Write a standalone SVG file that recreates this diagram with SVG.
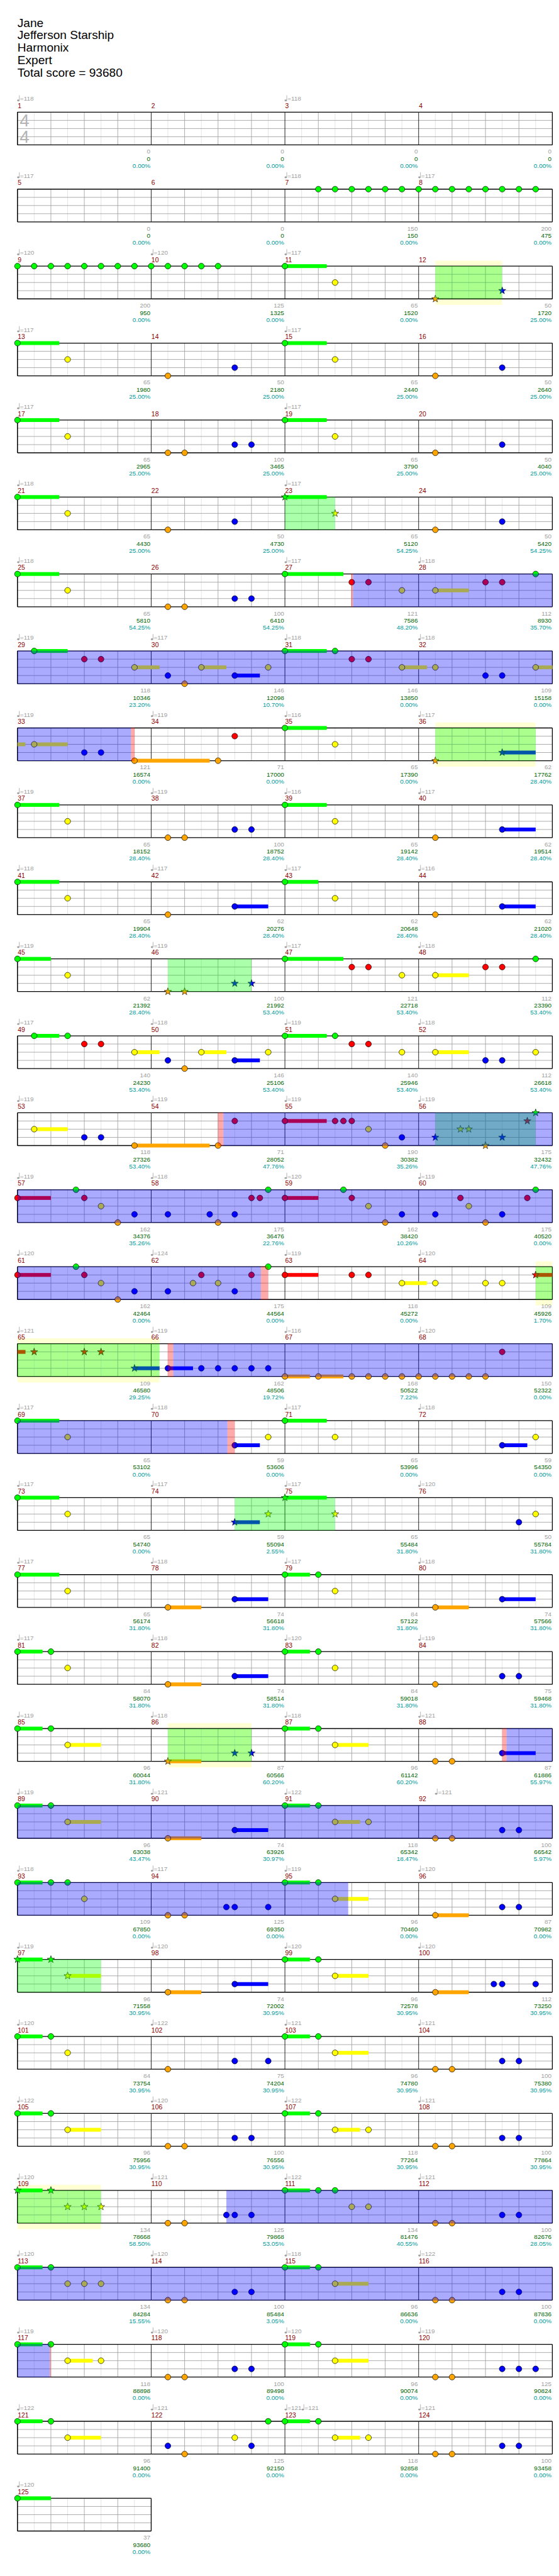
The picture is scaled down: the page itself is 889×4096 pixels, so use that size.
<svg xmlns="http://www.w3.org/2000/svg" xmlns:xlink="http://www.w3.org/1999/xlink" width="889" height="4096" viewBox="0 0 889 4096">
<style>
.hd{font:22px "Liberation Sans",Arial,sans-serif;fill:#000}
.mn{font:12px "Liberation Sans",Arial,sans-serif;fill:#8b0000}
.tp{font:11.5px "Liberation Sans",Arial,sans-serif;fill:#a0a0a0}
.a{font:11.5px "Liberation Sans",Arial,sans-serif;text-anchor:end}
.a1{fill:#a0a0a0}.a2{fill:#006400}.a3{fill:#009a9a}
.ts{font:32px "Liberation Sans",Arial,sans-serif;fill:#b4b4b4;text-anchor:middle}
.G{fill:#00ff00}.R{fill:#ff0000}.Y{fill:#ffff00}.B{fill:#0000ff}.O{fill:#ffa500}
.gz{fill:#00ff00;fill-opacity:.333}.ov{fill:#0000ff;fill-opacity:.333}.pk{fill:#ff0000;fill-opacity:.333}.yb{fill:#ffffd4}
</style>
<defs>
<circle id="n" r="5.3" stroke="#000" stroke-width="0.8"/>
<polygon id="s" points="0,-7 1.65,-2.27 6.66,-2.16 2.66,0.87 4.11,5.66 0,2.8 -4.11,5.66 -2.66,0.87 -6.66,-2.16 -1.65,-2.27" stroke="#000" stroke-width="0.7"/>
<g id="ti" fill="#a0a0a0" stroke="#a0a0a0"><ellipse cx="1.5" cy="-21.5" rx="2.2" ry="1.7" stroke="none"/><path d="M3.4 -21.5V-31" stroke-width="0.9" fill="none"/></g>
<g id="mg" fill="none">
<path d="M30.6 0V60M91.9 0V60M153.1 0V60M214.4 0V60" stroke="#e0e0e0"/>
<path d="M61.25 0V60M122.5 0V60M183.75 0V60M0 15H245M0 30H245M0 45H245" stroke="#a0a0a0"/>
<path d="M0 0V60" stroke="#000"/>
<path d="M0 0H245M0 60H245" stroke="#000" stroke-width="1.5"/>
</g>
<g id="st"><use href="#mg"/><use href="#mg" x="245"/><use href="#mg" x="490"/><use href="#mg" x="735"/><path d="M0 0V60M980 0V60" stroke="#000" stroke-width="1.5" fill="none"/></g>
</defs>
<rect width="889" height="4096" fill="#fff"/>
<g transform="scale(0.868)">
<g id="header" class="hd">
<text class="hd" x="32" y="49">Jane</text>
<text class="hd" x="32" y="72">Jefferson Starship</text>
<text class="hd" x="32" y="95">Harmonix</text>
<text class="hd" x="32" y="118">Expert</text>
<text class="hd" x="32" y="141">Total score = 93680</text>
</g>

<g id="row1" transform="translate(32,205.5)">
<use href="#st"/>
<text class="ts" x="13" y="26.6">4</text><text class="ts" x="13" y="56.6">4</text>
<use href="#ti"/><use href="#ti" x="490"/>
<text class="tp" y="-20.7"><tspan x="4.7">=118</tspan><tspan x="494.7">=118</tspan></text>
<text class="mn" y="-7.4"><tspan x="0.5">1</tspan><tspan x="245.5">2</tspan><tspan x="490.5">3</tspan><tspan x="735.5">4</tspan></text>
<text class="a a1" y="76"><tspan x="243.5">0</tspan><tspan x="488.5">0</tspan><tspan x="733.5">0</tspan><tspan x="978.5">0</tspan></text>
<text class="a a2" y="89.3"><tspan x="243.5">0</tspan><tspan x="488.5">0</tspan><tspan x="733.5">0</tspan><tspan x="978.5">0</tspan></text>
<text class="a a3" y="102"><tspan x="243.5">0.00%</tspan><tspan x="488.5">0.00%</tspan><tspan x="733.5">0.00%</tspan><tspan x="978.5">0.00%</tspan></text>
</g>

<g id="row2" transform="translate(32,346.5)">
<use href="#st"/>
<use href="#n" class="G" x="551.25"/><use href="#n" class="G" x="581.9"/><use href="#n" class="G" x="612.5"/><use href="#n" class="G" x="643.1"/><use href="#n" class="G" x="673.75"/><use href="#n" class="G" x="704.4"/><use href="#n" class="G" x="735"/><use href="#n" class="G" x="765.6"/><use href="#n" class="G" x="796.25"/><use href="#n" class="G" x="826.9"/><use href="#n" class="G" x="857.5"/><use href="#n" class="G" x="888.1"/><use href="#n" class="G" x="918.75"/><use href="#n" class="G" x="949.4"/>
<use href="#ti"/><use href="#ti" x="490"/><use href="#ti" x="735"/>
<text class="tp" y="-20.7"><tspan x="4.7">=117</tspan><tspan x="494.7">=118</tspan><tspan x="739.7">=117</tspan></text>
<text class="mn" y="-7.4"><tspan x="0.5">5</tspan><tspan x="245.5">6</tspan><tspan x="490.5">7</tspan><tspan x="735.5">8</tspan></text>
<text class="a a1" y="76"><tspan x="243.5">0</tspan><tspan x="488.5">0</tspan><tspan x="733.5">150</tspan><tspan x="978.5">200</tspan></text>
<text class="a a2" y="89.3"><tspan x="243.5">0</tspan><tspan x="488.5">0</tspan><tspan x="733.5">150</tspan><tspan x="978.5">475</tspan></text>
<text class="a a3" y="102"><tspan x="243.5">0.00%</tspan><tspan x="488.5">0.00%</tspan><tspan x="733.5">0.00%</tspan><tspan x="978.5">0.00%</tspan></text>
</g>

<g id="row3" transform="translate(32,487.5)">
<rect class="yb" x="765.6" y="-10" width="122.5" height="81"/>
<use href="#st"/>
<rect class="G" x="490" y="-3.5" width="76.6" height="7"/>
<use href="#n" class="G" x="0"/><use href="#n" class="G" x="30.6"/><use href="#n" class="G" x="61.25"/><use href="#n" class="G" x="91.9"/><use href="#n" class="G" x="122.5"/><use href="#n" class="G" x="153.1"/><use href="#n" class="G" x="183.75"/><use href="#n" class="G" x="214.4"/><use href="#n" class="G" x="245"/><use href="#n" class="G" x="275.6"/><use href="#n" class="G" x="306.25"/><use href="#n" class="G" x="336.9"/><use href="#n" class="G" x="367.5"/>
<use href="#n" class="G" x="490"/><use href="#n" class="Y" x="581.9" y="30"/>
<use href="#s" class="O" x="765.6" y="60"/><use href="#s" class="B" x="888.1" y="45"/>
<rect class="gz" x="765.6" y="0" width="122.5" height="60"/>
<use href="#ti"/><use href="#ti" x="245"/><use href="#ti" x="490"/>
<text class="tp" y="-20.7"><tspan x="4.7">=120</tspan><tspan x="249.7">=120</tspan><tspan x="494.7">=117</tspan></text>
<text class="mn" y="-7.4"><tspan x="0.5">9</tspan><tspan x="245.5">10</tspan><tspan x="490.5">11</tspan><tspan x="735.5">12</tspan></text>
<text class="a a1" y="76"><tspan x="243.5">200</tspan><tspan x="488.5">125</tspan><tspan x="733.5">65</tspan><tspan x="978.5">50</tspan></text>
<text class="a a2" y="89.3"><tspan x="243.5">950</tspan><tspan x="488.5">1325</tspan><tspan x="733.5">1520</tspan><tspan x="978.5">1720</tspan></text>
<text class="a a3" y="102"><tspan x="243.5">0.00%</tspan><tspan x="488.5">0.00%</tspan><tspan x="733.5">0.00%</tspan><tspan x="978.5">25.00%</tspan></text>
</g>

<g id="row4" transform="translate(32,628.5)">
<use href="#st"/>
<rect class="G" x="0" y="-3.5" width="76.6" height="7"/><rect class="G" x="490" y="-3.5" width="76.6" height="7"/>
<use href="#n" class="G" x="0"/><use href="#n" class="Y" x="91.9" y="30"/><use href="#n" class="O" x="275.6" y="60"/><use href="#n" class="B" x="398.1" y="45"/>
<use href="#n" class="G" x="490"/><use href="#n" class="Y" x="581.9" y="30"/><use href="#n" class="O" x="765.6" y="60"/><use href="#n" class="B" x="888.1" y="45"/>
<use href="#ti"/><use href="#ti" x="490"/>
<text class="tp" y="-20.7"><tspan x="4.7">=117</tspan><tspan x="494.7">=117</tspan></text>
<text class="mn" y="-7.4"><tspan x="0.5">13</tspan><tspan x="245.5">14</tspan><tspan x="490.5">15</tspan><tspan x="735.5">16</tspan></text>
<text class="a a1" y="76"><tspan x="243.5">65</tspan><tspan x="488.5">50</tspan><tspan x="733.5">65</tspan><tspan x="978.5">50</tspan></text>
<text class="a a2" y="89.3"><tspan x="243.5">1980</tspan><tspan x="488.5">2180</tspan><tspan x="733.5">2440</tspan><tspan x="978.5">2640</tspan></text>
<text class="a a3" y="102"><tspan x="243.5">25.00%</tspan><tspan x="488.5">25.00%</tspan><tspan x="733.5">25.00%</tspan><tspan x="978.5">25.00%</tspan></text>
</g>

<g id="row5" transform="translate(32,769.5)">
<use href="#st"/>
<rect class="G" x="0" y="-3.5" width="76.6" height="7"/><rect class="G" x="490" y="-3.5" width="76.6" height="7"/>
<use href="#n" class="G" x="0"/><use href="#n" class="Y" x="91.9" y="30"/><use href="#n" class="O" x="275.6" y="60"/><use href="#n" class="O" x="306.25" y="60"/><use href="#n" class="B" x="398.1" y="45"/><use href="#n" class="B" x="428.75" y="45"/>
<use href="#n" class="G" x="490"/><use href="#n" class="Y" x="581.9" y="30"/><use href="#n" class="O" x="765.6" y="60"/><use href="#n" class="B" x="888.1" y="45"/>
<use href="#ti"/><use href="#ti" x="490"/>
<text class="tp" y="-20.7"><tspan x="4.7">=117</tspan><tspan x="494.7">=117</tspan></text>
<text class="mn" y="-7.4"><tspan x="0.5">17</tspan><tspan x="245.5">18</tspan><tspan x="490.5">19</tspan><tspan x="735.5">20</tspan></text>
<text class="a a1" y="76"><tspan x="243.5">65</tspan><tspan x="488.5">100</tspan><tspan x="733.5">65</tspan><tspan x="978.5">50</tspan></text>
<text class="a a2" y="89.3"><tspan x="243.5">2965</tspan><tspan x="488.5">3465</tspan><tspan x="733.5">3790</tspan><tspan x="978.5">4040</tspan></text>
<text class="a a3" y="102"><tspan x="243.5">25.00%</tspan><tspan x="488.5">25.00%</tspan><tspan x="733.5">25.00%</tspan><tspan x="978.5">25.00%</tspan></text>
</g>

<g id="row6" transform="translate(32,910.5)">
<use href="#st"/>
<rect class="G" x="0" y="-3.5" width="76.6" height="7"/><rect class="G" x="490" y="-3.5" width="76.6" height="7"/>
<use href="#n" class="G" x="0"/><use href="#n" class="Y" x="91.9" y="30"/><use href="#n" class="O" x="275.6" y="60"/><use href="#n" class="B" x="398.1" y="45"/>
<use href="#s" class="G" x="490"/><use href="#s" class="Y" x="581.9" y="30"/><use href="#n" class="O" x="765.6" y="60"/><use href="#n" class="B" x="888.1" y="45"/>
<rect class="gz" x="490" y="0" width="91.9" height="60"/>
<use href="#ti"/><use href="#ti" x="490"/>
<text class="tp" y="-20.7"><tspan x="4.7">=118</tspan><tspan x="494.7">=117</tspan></text>
<text class="mn" y="-7.4"><tspan x="0.5">21</tspan><tspan x="245.5">22</tspan><tspan x="490.5">23</tspan><tspan x="735.5">24</tspan></text>
<text class="a a1" y="76"><tspan x="243.5">65</tspan><tspan x="488.5">50</tspan><tspan x="733.5">65</tspan><tspan x="978.5">50</tspan></text>
<text class="a a2" y="89.3"><tspan x="243.5">4430</tspan><tspan x="488.5">4730</tspan><tspan x="733.5">5120</tspan><tspan x="978.5">5420</tspan></text>
<text class="a a3" y="102"><tspan x="243.5">25.00%</tspan><tspan x="488.5">25.00%</tspan><tspan x="733.5">54.25%</tspan><tspan x="978.5">54.25%</tspan></text>
</g>

<g id="row7" transform="translate(32,1051.5)">
<use href="#st"/>
<rect class="G" x="0" y="-3.5" width="76.6" height="7"/><rect class="G" x="490" y="-3.5" width="107.2" height="7"/><rect class="Y" x="765.6" y="26.5" width="61.3" height="7"/>
<use href="#n" class="G" x="0"/><use href="#n" class="Y" x="91.9" y="30"/><use href="#n" class="O" x="275.6" y="60"/><use href="#n" class="O" x="306.25" y="60"/><use href="#n" class="B" x="398.1" y="45"/><use href="#n" class="B" x="428.75" y="45"/>
<use href="#n" class="G" x="490"/><use href="#n" class="R" x="612.5" y="15"/><use href="#n" class="R" x="643.1" y="15"/><use href="#n" class="Y" x="704.4" y="30"/><use href="#n" class="Y" x="765.6" y="30"/><use href="#n" class="R" x="857.5" y="15"/><use href="#n" class="R" x="888.1" y="15"/><use href="#n" class="G" x="949.4"/>
<rect class="ov" x="614.7" y="-0.5" width="365.3" height="61"/><rect class="pk" x="611.3" y="-0.5" width="3.4" height="61"/>
<use href="#ti"/><use href="#ti" x="490"/><use href="#ti" x="735"/>
<text class="tp" y="-20.7"><tspan x="4.7">=118</tspan><tspan x="494.7">=117</tspan><tspan x="739.7">=118</tspan></text>
<text class="mn" y="-7.4"><tspan x="0.5">25</tspan><tspan x="245.5">26</tspan><tspan x="490.5">27</tspan><tspan x="735.5">28</tspan></text>
<text class="a a1" y="76"><tspan x="243.5">65</tspan><tspan x="488.5">100</tspan><tspan x="733.5">121</tspan><tspan x="978.5">112</tspan></text>
<text class="a a2" y="89.3"><tspan x="243.5">5810</tspan><tspan x="488.5">6410</tspan><tspan x="733.5">7586</tspan><tspan x="978.5">8930</tspan></text>
<text class="a a3" y="102"><tspan x="243.5">54.25%</tspan><tspan x="488.5">54.25%</tspan><tspan x="733.5">48.20%</tspan><tspan x="978.5">35.70%</tspan></text>
</g>

<g id="row8" transform="translate(32,1192.5)">
<use href="#st"/>
<rect class="G" x="30.6" y="-3.5" width="61.3" height="7"/><rect class="Y" x="214.4" y="26.5" width="45.9" height="7"/><rect class="Y" x="336.9" y="26.5" width="45.9" height="7"/><rect class="B" x="398.1" y="41.5" width="46" height="7"/><rect class="G" x="490" y="-3.5" width="76.6" height="7"/><rect class="Y" x="704.4" y="26.5" width="45.9" height="7"/><rect class="Y" x="949.4" y="26.5" width="30.6" height="7"/>
<use href="#n" class="G" x="30.6"/><use href="#n" class="R" x="122.5" y="15"/><use href="#n" class="R" x="153.1" y="15"/><use href="#n" class="Y" x="214.4" y="30"/><use href="#n" class="B" x="275.6" y="45"/><use href="#n" class="O" x="306.25" y="60"/><use href="#n" class="Y" x="336.9" y="30"/><use href="#n" class="B" x="398.1" y="45"/><use href="#n" class="Y" x="459.4" y="30"/>
<use href="#n" class="G" x="490"/><use href="#n" class="G" x="581.9"/><use href="#n" class="R" x="612.5" y="15"/><use href="#n" class="R" x="643.1" y="15"/><use href="#n" class="Y" x="704.4" y="30"/><use href="#n" class="Y" x="765.6" y="30"/><use href="#n" class="B" x="857.5" y="45"/><use href="#n" class="B" x="888.1" y="45"/><use href="#n" class="Y" x="949.4" y="30"/>
<rect class="ov" x="0" y="-0.5" width="980" height="61"/>
<use href="#ti"/><use href="#ti" x="245"/><use href="#ti" x="490"/><use href="#ti" x="735"/>
<text class="tp" y="-20.7"><tspan x="4.7">=119</tspan><tspan x="249.7">=117</tspan><tspan x="494.7">=118</tspan><tspan x="739.7">=118</tspan></text>
<text class="mn" y="-7.4"><tspan x="0.5">29</tspan><tspan x="245.5">30</tspan><tspan x="490.5">31</tspan><tspan x="735.5">32</tspan></text>
<text class="a a1" y="76"><tspan x="243.5">118</tspan><tspan x="488.5">146</tspan><tspan x="733.5">146</tspan><tspan x="978.5">109</tspan></text>
<text class="a a2" y="89.3"><tspan x="243.5">10346</tspan><tspan x="488.5">12098</tspan><tspan x="733.5">13850</tspan><tspan x="978.5">15158</tspan></text>
<text class="a a3" y="102"><tspan x="243.5">23.20%</tspan><tspan x="488.5">10.70%</tspan><tspan x="733.5">0.00%</tspan><tspan x="978.5">0.00%</tspan></text>
</g>

<g id="row9" transform="translate(32,1333.5)">
<rect class="yb" x="765.6" y="-10" width="183.8" height="81"/>
<use href="#st"/>
<rect class="Y" x="0" y="26.5" width="14.7" height="7"/><rect class="Y" x="30.6" y="26.5" width="61.3" height="7"/><rect class="O" x="214.4" y="56.5" width="137.8" height="7"/><rect class="G" x="490" y="-3.5" width="76.6" height="7"/><rect class="B" x="888.1" y="41.5" width="61.3" height="7"/>
<use href="#n" class="Y" x="30.6" y="30"/><use href="#n" class="B" x="122.5" y="45"/><use href="#n" class="B" x="153.1" y="45"/><use href="#n" class="O" x="214.4" y="60"/><use href="#n" class="O" x="367.5" y="60"/><use href="#n" class="R" x="398.1" y="15"/>
<use href="#n" class="G" x="490"/><use href="#n" class="Y" x="581.9" y="30"/><use href="#s" class="O" x="765.6" y="60"/><use href="#s" class="B" x="888.1" y="45"/>
<rect class="gz" x="765.6" y="0" width="183.8" height="60"/>
<rect class="ov" x="0" y="-0.5" width="208" height="61"/><rect class="pk" x="208" y="-0.5" width="6.7" height="61"/>
<use href="#ti"/><use href="#ti" x="245"/><use href="#ti" x="490"/><use href="#ti" x="735"/>
<text class="tp" y="-20.7"><tspan x="4.7">=119</tspan><tspan x="249.7">=119</tspan><tspan x="494.7">=116</tspan><tspan x="739.7">=117</tspan></text>
<text class="mn" y="-7.4"><tspan x="0.5">33</tspan><tspan x="245.5">34</tspan><tspan x="490.5">35</tspan><tspan x="735.5">36</tspan></text>
<text class="a a1" y="76"><tspan x="243.5">121</tspan><tspan x="488.5">71</tspan><tspan x="733.5">65</tspan><tspan x="978.5">62</tspan></text>
<text class="a a2" y="89.3"><tspan x="243.5">16574</tspan><tspan x="488.5">17000</tspan><tspan x="733.5">17390</tspan><tspan x="978.5">17762</tspan></text>
<text class="a a3" y="102"><tspan x="243.5">0.00%</tspan><tspan x="488.5">0.00%</tspan><tspan x="733.5">0.00%</tspan><tspan x="978.5">28.40%</tspan></text>
</g>

<g id="row10" transform="translate(32,1474.5)">
<use href="#st"/>
<rect class="G" x="0" y="-3.5" width="76.6" height="7"/><rect class="G" x="490" y="-3.5" width="76.6" height="7"/><rect class="B" x="888.1" y="41.5" width="61.3" height="7"/>
<use href="#n" class="G" x="0"/><use href="#n" class="Y" x="91.9" y="30"/><use href="#n" class="O" x="275.6" y="60"/><use href="#n" class="O" x="306.25" y="60"/><use href="#n" class="B" x="398.1" y="45"/><use href="#n" class="B" x="428.75" y="45"/>
<use href="#n" class="G" x="490"/><use href="#n" class="Y" x="581.9" y="30"/><use href="#n" class="O" x="765.6" y="60"/><use href="#n" class="B" x="888.1" y="45"/>
<use href="#ti"/><use href="#ti" x="245"/><use href="#ti" x="490"/><use href="#ti" x="735"/>
<text class="tp" y="-20.7"><tspan x="4.7">=119</tspan><tspan x="249.7">=119</tspan><tspan x="494.7">=116</tspan><tspan x="739.7">=117</tspan></text>
<text class="mn" y="-7.4"><tspan x="0.5">37</tspan><tspan x="245.5">38</tspan><tspan x="490.5">39</tspan><tspan x="735.5">40</tspan></text>
<text class="a a1" y="76"><tspan x="243.5">65</tspan><tspan x="488.5">100</tspan><tspan x="733.5">65</tspan><tspan x="978.5">62</tspan></text>
<text class="a a2" y="89.3"><tspan x="243.5">18152</tspan><tspan x="488.5">18752</tspan><tspan x="733.5">19142</tspan><tspan x="978.5">19514</tspan></text>
<text class="a a3" y="102"><tspan x="243.5">28.40%</tspan><tspan x="488.5">28.40%</tspan><tspan x="733.5">28.40%</tspan><tspan x="978.5">28.40%</tspan></text>
</g>

<g id="row11" transform="translate(32,1615.5)">
<use href="#st"/>
<rect class="G" x="0" y="-3.5" width="76.6" height="7"/><rect class="B" x="398.1" y="41.5" width="61.3" height="7"/><rect class="G" x="490" y="-3.5" width="61.25" height="7"/><rect class="B" x="888.1" y="41.5" width="61.3" height="7"/>
<use href="#n" class="G" x="0"/><use href="#n" class="Y" x="91.9" y="30"/><use href="#n" class="O" x="275.6" y="60"/><use href="#n" class="B" x="398.1" y="45"/>
<use href="#n" class="G" x="490"/><use href="#n" class="Y" x="581.9" y="30"/><use href="#n" class="O" x="765.6" y="60"/><use href="#n" class="B" x="888.1" y="45"/>
<use href="#ti"/><use href="#ti" x="245"/><use href="#ti" x="490"/><use href="#ti" x="735"/>
<text class="tp" y="-20.7"><tspan x="4.7">=118</tspan><tspan x="249.7">=117</tspan><tspan x="494.7">=117</tspan><tspan x="739.7">=116</tspan></text>
<text class="mn" y="-7.4"><tspan x="0.5">41</tspan><tspan x="245.5">42</tspan><tspan x="490.5">43</tspan><tspan x="735.5">44</tspan></text>
<text class="a a1" y="76"><tspan x="243.5">65</tspan><tspan x="488.5">62</tspan><tspan x="733.5">62</tspan><tspan x="978.5">62</tspan></text>
<text class="a a2" y="89.3"><tspan x="243.5">19904</tspan><tspan x="488.5">20276</tspan><tspan x="733.5">20648</tspan><tspan x="978.5">21020</tspan></text>
<text class="a a3" y="102"><tspan x="243.5">28.40%</tspan><tspan x="488.5">28.40%</tspan><tspan x="733.5">28.40%</tspan><tspan x="978.5">28.40%</tspan></text>
</g>

<g id="row12" transform="translate(32,1756.5)">
<use href="#st"/>
<rect class="G" x="0" y="-3.5" width="61.25" height="7"/><rect class="G" x="490" y="-3.5" width="107.2" height="7"/><rect class="Y" x="765.6" y="26.5" width="61.3" height="7"/>
<use href="#n" class="G" x="0"/><use href="#n" class="Y" x="91.9" y="30"/><use href="#s" class="O" x="275.6" y="60"/><use href="#s" class="O" x="306.25" y="60"/><use href="#s" class="B" x="398.1" y="45"/><use href="#s" class="B" x="428.75" y="45"/>
<use href="#n" class="G" x="490"/><use href="#n" class="R" x="612.5" y="15"/><use href="#n" class="R" x="643.1" y="15"/><use href="#n" class="Y" x="704.4" y="30"/><use href="#n" class="Y" x="765.6" y="30"/><use href="#n" class="R" x="857.5" y="15"/><use href="#n" class="R" x="888.1" y="15"/><use href="#n" class="G" x="949.4"/>
<rect class="gz" x="275.6" y="0" width="153.15" height="60"/>
<use href="#ti"/><use href="#ti" x="245"/><use href="#ti" x="490"/><use href="#ti" x="735"/>
<text class="tp" y="-20.7"><tspan x="4.7">=119</tspan><tspan x="249.7">=119</tspan><tspan x="494.7">=117</tspan><tspan x="739.7">=118</tspan></text>
<text class="mn" y="-7.4"><tspan x="0.5">45</tspan><tspan x="245.5">46</tspan><tspan x="490.5">47</tspan><tspan x="735.5">48</tspan></text>
<text class="a a1" y="76"><tspan x="243.5">62</tspan><tspan x="488.5">100</tspan><tspan x="733.5">121</tspan><tspan x="978.5">112</tspan></text>
<text class="a a2" y="89.3"><tspan x="243.5">21392</tspan><tspan x="488.5">21992</tspan><tspan x="733.5">22718</tspan><tspan x="978.5">23390</tspan></text>
<text class="a a3" y="102"><tspan x="243.5">28.40%</tspan><tspan x="488.5">53.40%</tspan><tspan x="733.5">53.40%</tspan><tspan x="978.5">53.40%</tspan></text>
</g>

<g id="row13" transform="translate(32,1897.5)">
<use href="#st"/>
<rect class="G" x="30.6" y="-3.5" width="46" height="7"/><rect class="Y" x="214.4" y="26.5" width="45.9" height="7"/><rect class="Y" x="336.9" y="26.5" width="45.9" height="7"/><rect class="B" x="398.1" y="41.5" width="46" height="7"/><rect class="G" x="490" y="-3.5" width="76.6" height="7"/><rect class="Y" x="765.6" y="26.5" width="61.3" height="7"/>
<use href="#n" class="G" x="30.6"/><use href="#n" class="G" x="91.9"/><use href="#n" class="R" x="122.5" y="15"/><use href="#n" class="R" x="153.1" y="15"/><use href="#n" class="Y" x="214.4" y="30"/><use href="#n" class="B" x="275.6" y="45"/><use href="#n" class="O" x="306.25" y="60"/><use href="#n" class="Y" x="336.9" y="30"/><use href="#n" class="B" x="398.1" y="45"/><use href="#n" class="Y" x="459.4" y="30"/>
<use href="#n" class="G" x="490"/><use href="#n" class="G" x="581.9"/><use href="#n" class="R" x="612.5" y="15"/><use href="#n" class="R" x="643.1" y="15"/><use href="#n" class="Y" x="704.4" y="30"/><use href="#n" class="Y" x="765.6" y="30"/><use href="#n" class="B" x="857.5" y="45"/><use href="#n" class="B" x="888.1" y="45"/><use href="#n" class="Y" x="949.4" y="30"/>
<use href="#ti"/><use href="#ti" x="245"/><use href="#ti" x="490"/><use href="#ti" x="735"/>
<text class="tp" y="-20.7"><tspan x="4.7">=117</tspan><tspan x="249.7">=118</tspan><tspan x="494.7">=119</tspan><tspan x="739.7">=118</tspan></text>
<text class="mn" y="-7.4"><tspan x="0.5">49</tspan><tspan x="245.5">50</tspan><tspan x="490.5">51</tspan><tspan x="735.5">52</tspan></text>
<text class="a a1" y="76"><tspan x="243.5">140</tspan><tspan x="488.5">146</tspan><tspan x="733.5">140</tspan><tspan x="978.5">112</tspan></text>
<text class="a a2" y="89.3"><tspan x="243.5">24230</tspan><tspan x="488.5">25106</tspan><tspan x="733.5">25946</tspan><tspan x="978.5">26618</tspan></text>
<text class="a a3" y="102"><tspan x="243.5">53.40%</tspan><tspan x="488.5">53.40%</tspan><tspan x="733.5">53.40%</tspan><tspan x="978.5">53.40%</tspan></text>
</g>

<g id="row14" transform="translate(32,2038.5)">
<use href="#st"/>
<rect class="Y" x="30.6" y="26.5" width="61.3" height="7"/><rect class="O" x="214.4" y="56.5" width="137.8" height="7"/><rect class="R" x="490" y="11.5" width="76.6" height="7"/>
<use href="#n" class="Y" x="30.6" y="30"/><use href="#n" class="B" x="122.5" y="45"/><use href="#n" class="B" x="153.1" y="45"/><use href="#n" class="O" x="214.4" y="60"/><use href="#n" class="O" x="367.5" y="60"/><use href="#n" class="R" x="398.1" y="15"/>
<use href="#n" class="R" x="490" y="15"/><use href="#n" class="R" x="581.9" y="15"/><use href="#n" class="R" x="597.2" y="15"/><use href="#n" class="R" x="612.5" y="15"/><use href="#n" class="Y" x="643.1" y="30"/><use href="#n" class="O" x="673.75" y="60"/><use href="#n" class="B" x="704.4" y="45"/>
<use href="#s" class="B" x="765.6" y="45"/><use href="#s" class="Y" x="811.6" y="30"/><use href="#s" class="Y" x="826.9" y="30"/><use href="#s" class="O" x="857.5" y="60"/><use href="#s" class="B" x="888.1" y="45"/><use href="#s" class="R" x="934.1" y="15"/><use href="#s" class="G" x="949.4"/>
<rect class="gz" x="765.6" y="0" width="183.8" height="60"/>
<rect class="ov" x="377.3" y="-0.5" width="602.7" height="61"/><rect class="pk" x="367.3" y="-0.5" width="10" height="61"/>
<use href="#ti"/><use href="#ti" x="245"/><use href="#ti" x="490"/><use href="#ti" x="735"/>
<text class="tp" y="-20.7"><tspan x="4.7">=119</tspan><tspan x="249.7">=119</tspan><tspan x="494.7">=119</tspan><tspan x="739.7">=119</tspan></text>
<text class="mn" y="-7.4"><tspan x="0.5">53</tspan><tspan x="245.5">54</tspan><tspan x="490.5">55</tspan><tspan x="735.5">56</tspan></text>
<text class="a a1" y="76"><tspan x="243.5">118</tspan><tspan x="488.5">71</tspan><tspan x="733.5">190</tspan><tspan x="978.5">175</tspan></text>
<text class="a a2" y="89.3"><tspan x="243.5">27326</tspan><tspan x="488.5">28052</tspan><tspan x="733.5">30382</tspan><tspan x="978.5">32432</tspan></text>
<text class="a a3" y="102"><tspan x="243.5">53.40%</tspan><tspan x="488.5">47.76%</tspan><tspan x="733.5">35.26%</tspan><tspan x="978.5">47.76%</tspan></text>
</g>

<g id="row15" transform="translate(32,2179.5)">
<use href="#st"/>
<rect class="R" x="0" y="11.5" width="61.25" height="7"/><rect class="R" x="490" y="11.5" width="61.25" height="7"/>
<use href="#n" class="R" x="0" y="15"/><use href="#n" class="G" x="107.2"/><use href="#n" class="R" x="122.5" y="15"/><use href="#n" class="Y" x="153.1" y="30"/><use href="#n" class="O" x="183.75" y="60"/><use href="#n" class="B" x="214.4" y="45"/><use href="#n" class="B" x="275.6" y="45"/><use href="#n" class="B" x="352.2" y="45"/><use href="#n" class="O" x="367.5" y="60"/><use href="#n" class="B" x="398.1" y="45"/><use href="#n" class="R" x="428.75" y="15"/><use href="#n" class="R" x="444.1" y="15"/><use href="#n" class="G" x="459.4"/>
<use href="#n" class="R" x="490" y="15"/><use href="#n" class="G" x="597.2"/><use href="#n" class="R" x="612.5" y="15"/><use href="#n" class="Y" x="643.1" y="30"/><use href="#n" class="O" x="673.75" y="60"/><use href="#n" class="B" x="704.4" y="45"/><use href="#n" class="B" x="765.6" y="45"/><use href="#n" class="R" x="811.6" y="15"/><use href="#n" class="Y" x="826.9" y="30"/><use href="#n" class="O" x="857.5" y="60"/><use href="#n" class="B" x="888.1" y="45"/><use href="#n" class="R" x="934.1" y="15"/><use href="#n" class="G" x="949.4"/>
<rect class="ov" x="0" y="-0.5" width="980" height="61"/>
<use href="#ti"/><use href="#ti" x="245"/><use href="#ti" x="490"/><use href="#ti" x="735"/>
<text class="tp" y="-20.7"><tspan x="4.7">=119</tspan><tspan x="249.7">=118</tspan><tspan x="494.7">=120</tspan><tspan x="739.7">=119</tspan></text>
<text class="mn" y="-7.4"><tspan x="0.5">57</tspan><tspan x="245.5">58</tspan><tspan x="490.5">59</tspan><tspan x="735.5">60</tspan></text>
<text class="a a1" y="76"><tspan x="243.5">162</tspan><tspan x="488.5">175</tspan><tspan x="733.5">162</tspan><tspan x="978.5">175</tspan></text>
<text class="a a2" y="89.3"><tspan x="243.5">34376</tspan><tspan x="488.5">36476</tspan><tspan x="733.5">38420</tspan><tspan x="978.5">40520</tspan></text>
<text class="a a3" y="102"><tspan x="243.5">35.26%</tspan><tspan x="488.5">22.76%</tspan><tspan x="733.5">10.26%</tspan><tspan x="978.5">0.00%</tspan></text>
</g>

<g id="row16" transform="translate(32,2320.5)">
<rect class="yb" x="949.4" y="-10" width="30.6" height="81"/>
<use href="#st"/>
<rect class="R" x="0" y="11.5" width="61.25" height="7"/><rect class="R" x="490" y="11.5" width="61.25" height="7"/><rect class="Y" x="704.4" y="26.5" width="45.9" height="7"/><rect class="R" x="949.4" y="11.5" width="30.6" height="7"/>
<use href="#n" class="R" x="0" y="15"/><use href="#n" class="G" x="107.2"/><use href="#n" class="R" x="122.5" y="15"/><use href="#n" class="Y" x="153.1" y="30"/><use href="#n" class="O" x="183.75" y="60"/><use href="#n" class="B" x="214.4" y="45"/><use href="#n" class="B" x="275.6" y="45"/><use href="#n" class="Y" x="321.6" y="30"/><use href="#n" class="R" x="336.9" y="15"/><use href="#n" class="Y" x="367.5" y="30"/><use href="#n" class="B" x="398.1" y="45"/><use href="#n" class="R" x="428.75" y="15"/><use href="#n" class="G" x="459.4"/>
<use href="#n" class="R" x="490" y="15"/><use href="#n" class="R" x="612.5" y="15"/><use href="#n" class="R" x="643.1" y="15"/><use href="#n" class="Y" x="704.4" y="30"/><use href="#n" class="Y" x="765.6" y="30"/><use href="#n" class="Y" x="857.5" y="30"/><use href="#n" class="Y" x="888.1" y="30"/><use href="#s" class="R" x="949.4" y="15"/>
<rect class="gz" x="949.4" y="0" width="30.6" height="60"/>
<rect class="ov" x="0" y="-0.5" width="446" height="61"/><rect class="pk" x="446" y="-0.5" width="13.3" height="61"/>
<use href="#ti"/><use href="#ti" x="245"/><use href="#ti" x="490"/><use href="#ti" x="735"/>
<text class="tp" y="-20.7"><tspan x="4.7">=120</tspan><tspan x="249.7">=124</tspan><tspan x="494.7">=119</tspan><tspan x="739.7">=120</tspan></text>
<text class="mn" y="-7.4"><tspan x="0.5">61</tspan><tspan x="245.5">62</tspan><tspan x="490.5">63</tspan><tspan x="735.5">64</tspan></text>
<text class="a a1" y="76"><tspan x="243.5">162</tspan><tspan x="488.5">175</tspan><tspan x="733.5">118</tspan><tspan x="978.5">109</tspan></text>
<text class="a a2" y="89.3"><tspan x="243.5">42464</tspan><tspan x="488.5">44564</tspan><tspan x="733.5">45272</tspan><tspan x="978.5">45926</tspan></text>
<text class="a a3" y="102"><tspan x="243.5">0.00%</tspan><tspan x="488.5">0.00%</tspan><tspan x="733.5">0.00%</tspan><tspan x="978.5">1.70%</tspan></text>
</g>

<g id="row17" transform="translate(32,2461.5)">
<rect class="yb" x="0" y="-10" width="260.3" height="81"/>
<use href="#st"/>
<rect class="R" x="0" y="11.5" width="14.7" height="7"/><rect class="B" x="214.4" y="41.5" width="45.9" height="7"/><rect class="B" x="275.6" y="41.5" width="46" height="7"/><rect class="O" x="490" y="56.5" width="45.9" height="7"/><rect class="O" x="551.25" y="56.5" width="45.95" height="7"/>
<use href="#s" class="R" x="30.6" y="15"/><use href="#s" class="R" x="122.5" y="15"/><use href="#s" class="R" x="153.1" y="15"/><use href="#s" class="B" x="214.4" y="45"/><use href="#n" class="B" x="275.6" y="45"/><use href="#n" class="B" x="336.9" y="45"/><use href="#n" class="B" x="367.5" y="45"/><use href="#n" class="B" x="398.1" y="45"/><use href="#n" class="B" x="428.75" y="45"/><use href="#n" class="B" x="459.4" y="45"/>
<use href="#n" class="O" x="490" y="60"/><use href="#n" class="O" x="551.25" y="60"/><use href="#n" class="O" x="612.5" y="60"/><use href="#n" class="O" x="643.1" y="60"/><use href="#n" class="O" x="673.75" y="60"/><use href="#n" class="O" x="704.4" y="60"/><use href="#n" class="O" x="735" y="60"/><use href="#n" class="O" x="765.6" y="60"/><use href="#n" class="O" x="796.25" y="60"/><use href="#n" class="O" x="826.9" y="60"/><use href="#n" class="O" x="857.5" y="60"/><use href="#n" class="R" x="888.1" y="15"/>
<rect class="gz" x="0" y="0" width="260.3" height="60"/>
<rect class="ov" x="285.3" y="-0.5" width="694.7" height="61"/><rect class="pk" x="275.3" y="-0.5" width="10" height="61"/>
<use href="#ti"/><use href="#ti" x="245"/><use href="#ti" x="490"/><use href="#ti" x="735"/>
<text class="tp" y="-20.7"><tspan x="4.7">=121</tspan><tspan x="249.7">=119</tspan><tspan x="494.7">=116</tspan><tspan x="739.7">=120</tspan></text>
<text class="mn" y="-7.4"><tspan x="0.5">65</tspan><tspan x="245.5">66</tspan><tspan x="490.5">67</tspan><tspan x="735.5">68</tspan></text>
<text class="a a1" y="76"><tspan x="243.5">109</tspan><tspan x="488.5">162</tspan><tspan x="733.5">168</tspan><tspan x="978.5">150</tspan></text>
<text class="a a2" y="89.3"><tspan x="243.5">46580</tspan><tspan x="488.5">48506</tspan><tspan x="733.5">50522</tspan><tspan x="978.5">52322</tspan></text>
<text class="a a3" y="102"><tspan x="243.5">29.25%</tspan><tspan x="488.5">19.72%</tspan><tspan x="733.5">7.22%</tspan><tspan x="978.5">0.00%</tspan></text>
</g>

<g id="row18" transform="translate(32,2602.5)">
<use href="#st"/>
<rect class="G" x="0" y="-3.5" width="76.6" height="7"/><rect class="B" x="398.1" y="41.5" width="46" height="7"/><rect class="G" x="490" y="-3.5" width="76.6" height="7"/><rect class="B" x="888.1" y="41.5" width="46" height="7"/>
<use href="#n" class="G" x="0"/><use href="#n" class="Y" x="91.9" y="30"/><use href="#n" class="B" x="398.1" y="45"/><use href="#n" class="Y" x="459.4" y="30"/>
<use href="#n" class="G" x="490"/><use href="#n" class="Y" x="581.9" y="30"/><use href="#n" class="B" x="888.1" y="45"/><use href="#n" class="Y" x="949.4" y="30"/>
<rect class="ov" x="0" y="-0.5" width="384.7" height="61"/><rect class="pk" x="384.7" y="-0.5" width="13.3" height="61"/>
<use href="#ti"/><use href="#ti" x="245"/><use href="#ti" x="490"/><use href="#ti" x="735"/>
<text class="tp" y="-20.7"><tspan x="4.7">=117</tspan><tspan x="249.7">=118</tspan><tspan x="494.7">=117</tspan><tspan x="739.7">=118</tspan></text>
<text class="mn" y="-7.4"><tspan x="0.5">69</tspan><tspan x="245.5">70</tspan><tspan x="490.5">71</tspan><tspan x="735.5">72</tspan></text>
<text class="a a1" y="76"><tspan x="243.5">65</tspan><tspan x="488.5">59</tspan><tspan x="733.5">65</tspan><tspan x="978.5">59</tspan></text>
<text class="a a2" y="89.3"><tspan x="243.5">53102</tspan><tspan x="488.5">53606</tspan><tspan x="733.5">53996</tspan><tspan x="978.5">54350</tspan></text>
<text class="a a3" y="102"><tspan x="243.5">0.00%</tspan><tspan x="488.5">0.00%</tspan><tspan x="733.5">0.00%</tspan><tspan x="978.5">0.00%</tspan></text>
</g>

<g id="row19" transform="translate(32,2743.5)">
<use href="#st"/>
<rect class="G" x="0" y="-3.5" width="76.6" height="7"/><rect class="B" x="398.1" y="41.5" width="46" height="7"/><rect class="G" x="490" y="-3.5" width="76.6" height="7"/>
<use href="#n" class="G" x="0"/><use href="#n" class="Y" x="91.9" y="30"/><use href="#s" class="B" x="398.1" y="45"/><use href="#s" class="Y" x="459.4" y="30"/>
<use href="#s" class="G" x="490"/><use href="#s" class="Y" x="581.9" y="30"/><use href="#n" class="B" x="918.75" y="45"/><use href="#n" class="Y" x="949.4" y="30"/>
<rect class="gz" x="398.1" y="0" width="183.8" height="60"/>
<use href="#ti"/><use href="#ti" x="245"/><use href="#ti" x="490"/><use href="#ti" x="735"/>
<text class="tp" y="-20.7"><tspan x="4.7">=117</tspan><tspan x="249.7">=117</tspan><tspan x="494.7">=117</tspan><tspan x="739.7">=120</tspan></text>
<text class="mn" y="-7.4"><tspan x="0.5">73</tspan><tspan x="245.5">74</tspan><tspan x="490.5">75</tspan><tspan x="735.5">76</tspan></text>
<text class="a a1" y="76"><tspan x="243.5">65</tspan><tspan x="488.5">59</tspan><tspan x="733.5">65</tspan><tspan x="978.5">50</tspan></text>
<text class="a a2" y="89.3"><tspan x="243.5">54740</tspan><tspan x="488.5">55094</tspan><tspan x="733.5">55484</tspan><tspan x="978.5">55784</tspan></text>
<text class="a a3" y="102"><tspan x="243.5">0.00%</tspan><tspan x="488.5">2.55%</tspan><tspan x="733.5">31.80%</tspan><tspan x="978.5">31.80%</tspan></text>
</g>

<g id="row20" transform="translate(32,2884.5)">
<use href="#st"/>
<rect class="G" x="0" y="-3.5" width="76.6" height="7"/><rect class="O" x="275.6" y="56.5" width="61.3" height="7"/><rect class="B" x="398.1" y="41.5" width="61.3" height="7"/><rect class="G" x="490" y="-3.5" width="45.9" height="7"/><rect class="O" x="765.6" y="56.5" width="61.3" height="7"/><rect class="B" x="888.1" y="41.5" width="61.3" height="7"/>
<use href="#n" class="G" x="0"/><use href="#n" class="Y" x="91.9" y="30"/><use href="#n" class="O" x="275.6" y="60"/><use href="#n" class="B" x="398.1" y="45"/>
<use href="#n" class="G" x="490"/><use href="#n" class="G" x="551.25"/><use href="#n" class="Y" x="581.9" y="30"/><use href="#n" class="O" x="765.6" y="60"/><use href="#n" class="B" x="888.1" y="45"/>
<use href="#ti"/><use href="#ti" x="245"/><use href="#ti" x="490"/><use href="#ti" x="735"/>
<text class="tp" y="-20.7"><tspan x="4.7">=117</tspan><tspan x="249.7">=118</tspan><tspan x="494.7">=117</tspan><tspan x="739.7">=118</tspan></text>
<text class="mn" y="-7.4"><tspan x="0.5">77</tspan><tspan x="245.5">78</tspan><tspan x="490.5">79</tspan><tspan x="735.5">80</tspan></text>
<text class="a a1" y="76"><tspan x="243.5">65</tspan><tspan x="488.5">74</tspan><tspan x="733.5">84</tspan><tspan x="978.5">74</tspan></text>
<text class="a a2" y="89.3"><tspan x="243.5">56174</tspan><tspan x="488.5">56618</tspan><tspan x="733.5">57122</tspan><tspan x="978.5">57566</tspan></text>
<text class="a a3" y="102"><tspan x="243.5">31.80%</tspan><tspan x="488.5">31.80%</tspan><tspan x="733.5">31.80%</tspan><tspan x="978.5">31.80%</tspan></text>
</g>

<g id="row21" transform="translate(32,3025.5)">
<use href="#st"/>
<rect class="G" x="0" y="-3.5" width="45.9" height="7"/><rect class="O" x="275.6" y="56.5" width="61.3" height="7"/><rect class="B" x="398.1" y="41.5" width="61.3" height="7"/><rect class="G" x="490" y="-3.5" width="45.9" height="7"/>
<use href="#n" class="G" x="0"/><use href="#n" class="G" x="61.25"/><use href="#n" class="Y" x="91.9" y="30"/><use href="#n" class="O" x="275.6" y="60"/><use href="#n" class="B" x="398.1" y="45"/>
<use href="#n" class="G" x="490"/><use href="#n" class="G" x="551.25"/><use href="#n" class="Y" x="581.9" y="30"/><use href="#n" class="O" x="765.6" y="60"/><use href="#n" class="B" x="888.1" y="45"/><use href="#n" class="B" x="918.75" y="45"/>
<use href="#ti"/><use href="#ti" x="245"/><use href="#ti" x="490"/><use href="#ti" x="735"/>
<text class="tp" y="-20.7"><tspan x="4.7">=117</tspan><tspan x="249.7">=118</tspan><tspan x="494.7">=120</tspan><tspan x="739.7">=119</tspan></text>
<text class="mn" y="-7.4"><tspan x="0.5">81</tspan><tspan x="245.5">82</tspan><tspan x="490.5">83</tspan><tspan x="735.5">84</tspan></text>
<text class="a a1" y="76"><tspan x="243.5">84</tspan><tspan x="488.5">74</tspan><tspan x="733.5">84</tspan><tspan x="978.5">75</tspan></text>
<text class="a a2" y="89.3"><tspan x="243.5">58070</tspan><tspan x="488.5">58514</tspan><tspan x="733.5">59018</tspan><tspan x="978.5">59468</tspan></text>
<text class="a a3" y="102"><tspan x="243.5">31.80%</tspan><tspan x="488.5">31.80%</tspan><tspan x="733.5">31.80%</tspan><tspan x="978.5">31.80%</tspan></text>
</g>

<g id="row22" transform="translate(32,3166.5)">
<rect class="yb" x="275.6" y="-10" width="153.15" height="81"/>
<use href="#st"/>
<rect class="G" x="0" y="-3.5" width="45.9" height="7"/><rect class="Y" x="91.9" y="26.5" width="61.2" height="7"/><rect class="O" x="275.6" y="56.5" width="61.3" height="7"/><rect class="G" x="490" y="-3.5" width="45.9" height="7"/><rect class="Y" x="581.9" y="26.5" width="61.2" height="7"/><rect class="B" x="888.1" y="41.5" width="61.3" height="7"/>
<use href="#n" class="G" x="0"/><use href="#n" class="G" x="61.25"/><use href="#n" class="Y" x="91.9" y="30"/><use href="#s" class="O" x="275.6" y="60"/><use href="#s" class="B" x="398.1" y="45"/><use href="#s" class="B" x="428.75" y="45"/>
<use href="#n" class="G" x="490"/><use href="#n" class="G" x="551.25"/><use href="#n" class="Y" x="581.9" y="30"/><use href="#n" class="O" x="765.6" y="60"/><use href="#n" class="O" x="796.25" y="60"/><use href="#n" class="B" x="888.1" y="45"/>
<rect class="gz" x="275.6" y="0" width="153.15" height="60"/>
<rect class="ov" x="896" y="-0.5" width="84" height="61"/><rect class="pk" x="888" y="-0.5" width="8" height="61"/>
<use href="#ti"/><use href="#ti" x="245"/><use href="#ti" x="490"/><use href="#ti" x="735"/>
<text class="tp" y="-20.7"><tspan x="4.7">=119</tspan><tspan x="249.7">=118</tspan><tspan x="494.7">=118</tspan><tspan x="739.7">=121</tspan></text>
<text class="mn" y="-7.4"><tspan x="0.5">85</tspan><tspan x="245.5">86</tspan><tspan x="490.5">87</tspan><tspan x="735.5">88</tspan></text>
<text class="a a1" y="76"><tspan x="243.5">96</tspan><tspan x="488.5">87</tspan><tspan x="733.5">96</tspan><tspan x="978.5">87</tspan></text>
<text class="a a2" y="89.3"><tspan x="243.5">60044</tspan><tspan x="488.5">60566</tspan><tspan x="733.5">61142</tspan><tspan x="978.5">61886</tspan></text>
<text class="a a3" y="102"><tspan x="243.5">31.80%</tspan><tspan x="488.5">60.20%</tspan><tspan x="733.5">60.20%</tspan><tspan x="978.5">55.97%</tspan></text>
</g>

<g id="row23" transform="translate(32,3307.5)">
<use href="#st"/>
<rect class="G" x="0" y="-3.5" width="45.9" height="7"/><rect class="Y" x="91.9" y="26.5" width="61.2" height="7"/><rect class="O" x="275.6" y="56.5" width="61.3" height="7"/><rect class="B" x="398.1" y="41.5" width="61.3" height="7"/><rect class="G" x="490" y="-3.5" width="45.9" height="7"/><rect class="Y" x="581.9" y="26.5" width="45.9" height="7"/>
<use href="#n" class="G" x="0"/><use href="#n" class="G" x="61.25"/><use href="#n" class="Y" x="91.9" y="30"/><use href="#n" class="O" x="275.6" y="60"/><use href="#n" class="B" x="398.1" y="45"/>
<use href="#n" class="G" x="490"/><use href="#n" class="G" x="551.25"/><use href="#n" class="Y" x="581.9" y="30"/><use href="#n" class="Y" x="643.1" y="30"/><use href="#n" class="O" x="765.6" y="60"/><use href="#n" class="O" x="796.25" y="60"/><use href="#n" class="B" x="888.1" y="45"/><use href="#n" class="B" x="918.75" y="45"/>
<rect class="ov" x="0" y="-0.5" width="980" height="61"/>
<use href="#ti"/><use href="#ti" x="245"/><use href="#ti" x="490"/><use href="#ti" x="765.6"/>
<text class="tp" y="-20.7"><tspan x="4.7">=119</tspan><tspan x="249.7">=121</tspan><tspan x="494.7">=122</tspan><tspan x="770.3">=121</tspan></text>
<text class="mn" y="-7.4"><tspan x="0.5">89</tspan><tspan x="245.5">90</tspan><tspan x="490.5">91</tspan><tspan x="735.5">92</tspan></text>
<text class="a a1" y="76"><tspan x="243.5">96</tspan><tspan x="488.5">74</tspan><tspan x="733.5">118</tspan><tspan x="978.5">100</tspan></text>
<text class="a a2" y="89.3"><tspan x="243.5">63038</tspan><tspan x="488.5">63926</tspan><tspan x="733.5">65342</tspan><tspan x="978.5">66542</tspan></text>
<text class="a a3" y="102"><tspan x="243.5">43.47%</tspan><tspan x="488.5">30.97%</tspan><tspan x="733.5">18.47%</tspan><tspan x="978.5">5.97%</tspan></text>
</g>

<g id="row24" transform="translate(32,3448.5)">
<use href="#st"/>
<rect class="G" x="0" y="-3.5" width="45.9" height="7"/><rect class="G" x="490" y="-3.5" width="45.9" height="7"/><rect class="Y" x="581.9" y="26.5" width="61.2" height="7"/><rect class="O" x="765.6" y="56.5" width="61.3" height="7"/>
<use href="#n" class="G" x="0"/><use href="#n" class="G" x="61.25"/><use href="#n" class="G" x="91.9"/><use href="#n" class="Y" x="122.5" y="30"/><use href="#n" class="O" x="275.6" y="60"/><use href="#n" class="O" x="306.25" y="60"/><use href="#n" class="B" x="382.8" y="45"/><use href="#n" class="B" x="398.1" y="45"/><use href="#n" class="B" x="459.4" y="45"/>
<use href="#n" class="G" x="490"/><use href="#n" class="G" x="551.25"/><use href="#n" class="Y" x="581.9" y="30"/><use href="#n" class="O" x="765.6" y="60"/><use href="#n" class="B" x="888.1" y="45"/><use href="#n" class="B" x="918.75" y="45"/>
<rect class="ov" x="0" y="-0.5" width="606" height="61"/>
<use href="#ti"/><use href="#ti" x="245"/><use href="#ti" x="490"/><use href="#ti" x="735"/>
<text class="tp" y="-20.7"><tspan x="4.7">=118</tspan><tspan x="249.7">=117</tspan><tspan x="494.7">=119</tspan><tspan x="739.7">=120</tspan></text>
<text class="mn" y="-7.4"><tspan x="0.5">93</tspan><tspan x="245.5">94</tspan><tspan x="490.5">95</tspan><tspan x="735.5">96</tspan></text>
<text class="a a1" y="76"><tspan x="243.5">109</tspan><tspan x="488.5">125</tspan><tspan x="733.5">96</tspan><tspan x="978.5">87</tspan></text>
<text class="a a2" y="89.3"><tspan x="243.5">67850</tspan><tspan x="488.5">69350</tspan><tspan x="733.5">70460</tspan><tspan x="978.5">70982</tspan></text>
<text class="a a3" y="102"><tspan x="243.5">0.00%</tspan><tspan x="488.5">0.00%</tspan><tspan x="733.5">0.00%</tspan><tspan x="978.5">0.00%</tspan></text>
</g>

<g id="row25" transform="translate(32,3589.5)">
<use href="#st"/>
<rect class="G" x="0" y="-3.5" width="45.9" height="7"/><rect class="Y" x="91.9" y="26.5" width="61.2" height="7"/><rect class="O" x="275.6" y="56.5" width="61.3" height="7"/><rect class="B" x="398.1" y="41.5" width="61.3" height="7"/><rect class="G" x="490" y="-3.5" width="45.9" height="7"/><rect class="Y" x="581.9" y="26.5" width="61.2" height="7"/><rect class="O" x="765.6" y="56.5" width="61.3" height="7"/>
<use href="#s" class="G" x="0"/><use href="#s" class="G" x="61.25"/><use href="#s" class="Y" x="91.9" y="30"/><use href="#n" class="O" x="275.6" y="60"/><use href="#n" class="B" x="398.1" y="45"/>
<use href="#n" class="G" x="490"/><use href="#n" class="G" x="551.25"/><use href="#n" class="Y" x="581.9" y="30"/><use href="#n" class="O" x="765.6" y="60"/><use href="#n" class="B" x="872.8" y="45"/><use href="#n" class="B" x="888.1" y="45"/><use href="#n" class="B" x="949.4" y="45"/>
<rect class="gz" x="0" y="0" width="153.1" height="60"/>
<use href="#ti"/><use href="#ti" x="245"/><use href="#ti" x="490"/><use href="#ti" x="735"/>
<text class="tp" y="-20.7"><tspan x="4.7">=119</tspan><tspan x="249.7">=120</tspan><tspan x="494.7">=120</tspan><tspan x="739.7">=120</tspan></text>
<text class="mn" y="-7.4"><tspan x="0.5">97</tspan><tspan x="245.5">98</tspan><tspan x="490.5">99</tspan><tspan x="735.5">100</tspan></text>
<text class="a a1" y="76"><tspan x="243.5">96</tspan><tspan x="488.5">74</tspan><tspan x="733.5">96</tspan><tspan x="978.5">112</tspan></text>
<text class="a a2" y="89.3"><tspan x="243.5">71558</tspan><tspan x="488.5">72002</tspan><tspan x="733.5">72578</tspan><tspan x="978.5">73250</tspan></text>
<text class="a a3" y="102"><tspan x="243.5">30.95%</tspan><tspan x="488.5">30.95%</tspan><tspan x="733.5">30.95%</tspan><tspan x="978.5">30.95%</tspan></text>
</g>

<g id="row26" transform="translate(32,3730.5)">
<use href="#st"/>
<rect class="G" x="0" y="-3.5" width="45.9" height="7"/><rect class="G" x="490" y="-3.5" width="45.9" height="7"/><rect class="Y" x="581.9" y="26.5" width="61.2" height="7"/>
<use href="#n" class="G" x="0"/><use href="#n" class="G" x="61.25"/><use href="#n" class="Y" x="91.9" y="30"/><use href="#n" class="O" x="275.6" y="60"/><use href="#n" class="B" x="398.1" y="45"/><use href="#n" class="B" x="459.4" y="45"/>
<use href="#n" class="G" x="490"/><use href="#n" class="G" x="551.25"/><use href="#n" class="Y" x="581.9" y="30"/><use href="#n" class="O" x="765.6" y="60"/><use href="#n" class="O" x="796.25" y="60"/><use href="#n" class="B" x="888.1" y="45"/><use href="#n" class="B" x="918.75" y="45"/>
<use href="#ti"/><use href="#ti" x="245"/><use href="#ti" x="490"/><use href="#ti" x="735"/>
<text class="tp" y="-20.7"><tspan x="4.7">=120</tspan><tspan x="249.7">=122</tspan><tspan x="494.7">=121</tspan><tspan x="739.7">=121</tspan></text>
<text class="mn" y="-7.4"><tspan x="0.5">101</tspan><tspan x="245.5">102</tspan><tspan x="490.5">103</tspan><tspan x="735.5">104</tspan></text>
<text class="a a1" y="76"><tspan x="243.5">84</tspan><tspan x="488.5">75</tspan><tspan x="733.5">96</tspan><tspan x="978.5">100</tspan></text>
<text class="a a2" y="89.3"><tspan x="243.5">73754</tspan><tspan x="488.5">74204</tspan><tspan x="733.5">74780</tspan><tspan x="978.5">75380</tspan></text>
<text class="a a3" y="102"><tspan x="243.5">30.95%</tspan><tspan x="488.5">30.95%</tspan><tspan x="733.5">30.95%</tspan><tspan x="978.5">30.95%</tspan></text>
</g>

<g id="row27" transform="translate(32,3871.5)">
<use href="#st"/>
<rect class="G" x="0" y="-3.5" width="45.9" height="7"/><rect class="Y" x="91.9" y="26.5" width="61.2" height="7"/><rect class="G" x="490" y="-3.5" width="45.9" height="7"/><rect class="Y" x="581.9" y="26.5" width="45.9" height="7"/>
<use href="#n" class="G" x="0"/><use href="#n" class="G" x="61.25"/><use href="#n" class="Y" x="91.9" y="30"/><use href="#n" class="O" x="275.6" y="60"/><use href="#n" class="O" x="306.25" y="60"/><use href="#n" class="B" x="398.1" y="45"/><use href="#n" class="B" x="428.75" y="45"/>
<use href="#n" class="G" x="490"/><use href="#n" class="G" x="551.25"/><use href="#n" class="Y" x="581.9" y="30"/><use href="#n" class="Y" x="643.1" y="30"/><use href="#n" class="O" x="765.6" y="60"/><use href="#n" class="O" x="796.25" y="60"/><use href="#n" class="B" x="888.1" y="45"/><use href="#n" class="B" x="918.75" y="45"/>
<use href="#ti"/><use href="#ti" x="245"/><use href="#ti" x="490"/><use href="#ti" x="735"/>
<text class="tp" y="-20.7"><tspan x="4.7">=122</tspan><tspan x="249.7">=120</tspan><tspan x="494.7">=122</tspan><tspan x="739.7">=121</tspan></text>
<text class="mn" y="-7.4"><tspan x="0.5">105</tspan><tspan x="245.5">106</tspan><tspan x="490.5">107</tspan><tspan x="735.5">108</tspan></text>
<text class="a a1" y="76"><tspan x="243.5">96</tspan><tspan x="488.5">100</tspan><tspan x="733.5">118</tspan><tspan x="978.5">100</tspan></text>
<text class="a a2" y="89.3"><tspan x="243.5">75956</tspan><tspan x="488.5">76556</tspan><tspan x="733.5">77264</tspan><tspan x="978.5">77864</tspan></text>
<text class="a a3" y="102"><tspan x="243.5">30.95%</tspan><tspan x="488.5">30.95%</tspan><tspan x="733.5">30.95%</tspan><tspan x="978.5">30.95%</tspan></text>
</g>

<g id="row28" transform="translate(32,4012.5)">
<rect class="yb" x="0" y="-10" width="153.1" height="81"/>
<use href="#st"/>
<rect class="G" x="0" y="-3.5" width="45.9" height="7"/><rect class="G" x="490" y="-3.5" width="45.9" height="7"/>
<use href="#s" class="G" x="0"/><use href="#s" class="G" x="61.25"/><use href="#s" class="Y" x="91.9" y="30"/><use href="#s" class="Y" x="122.5" y="30"/><use href="#s" class="Y" x="153.1" y="30"/><use href="#n" class="O" x="275.6" y="60"/><use href="#n" class="O" x="306.25" y="60"/><use href="#n" class="B" x="382.8" y="45"/><use href="#n" class="B" x="398.1" y="45"/><use href="#n" class="B" x="428.75" y="45"/>
<use href="#n" class="G" x="490"/><use href="#n" class="G" x="551.25"/><use href="#n" class="G" x="581.9"/><use href="#n" class="Y" x="612.5" y="30"/><use href="#n" class="Y" x="643.1" y="30"/><use href="#n" class="O" x="765.6" y="60"/><use href="#n" class="O" x="796.25" y="60"/><use href="#n" class="B" x="888.1" y="45"/><use href="#n" class="B" x="918.75" y="45"/>
<rect class="gz" x="0" y="0" width="153.1" height="60"/>
<rect class="ov" x="382.7" y="-0.5" width="597.3" height="61"/>
<use href="#ti"/><use href="#ti" x="245"/><use href="#ti" x="490"/><use href="#ti" x="735"/>
<text class="tp" y="-20.7"><tspan x="4.7">=120</tspan><tspan x="249.7">=121</tspan><tspan x="494.7">=122</tspan><tspan x="739.7">=121</tspan></text>
<text class="mn" y="-7.4"><tspan x="0.5">109</tspan><tspan x="245.5">110</tspan><tspan x="490.5">111</tspan><tspan x="735.5">112</tspan></text>
<text class="a a1" y="76"><tspan x="243.5">134</tspan><tspan x="488.5">125</tspan><tspan x="733.5">134</tspan><tspan x="978.5">100</tspan></text>
<text class="a a2" y="89.3"><tspan x="243.5">78668</tspan><tspan x="488.5">79868</tspan><tspan x="733.5">81476</tspan><tspan x="978.5">82676</tspan></text>
<text class="a a3" y="102"><tspan x="243.5">58.50%</tspan><tspan x="488.5">53.05%</tspan><tspan x="733.5">40.55%</tspan><tspan x="978.5">28.05%</tspan></text>
</g>

<g id="row29" transform="translate(32,4153.5)">
<use href="#st"/>
<rect class="G" x="0" y="-3.5" width="45.9" height="7"/><rect class="G" x="490" y="-3.5" width="45.9" height="7"/><rect class="Y" x="581.9" y="26.5" width="61.2" height="7"/>
<use href="#n" class="G" x="0"/><use href="#n" class="G" x="61.25"/><use href="#n" class="Y" x="91.9" y="30"/><use href="#n" class="Y" x="122.5" y="30"/><use href="#n" class="Y" x="153.1" y="30"/><use href="#n" class="O" x="275.6" y="60"/><use href="#n" class="O" x="306.25" y="60"/><use href="#n" class="B" x="398.1" y="45"/><use href="#n" class="B" x="428.75" y="45"/>
<use href="#n" class="G" x="490"/><use href="#n" class="G" x="551.25"/><use href="#n" class="Y" x="581.9" y="30"/><use href="#n" class="O" x="765.6" y="60"/><use href="#n" class="O" x="796.25" y="60"/><use href="#n" class="B" x="888.1" y="45"/><use href="#n" class="B" x="918.75" y="45"/>
<rect class="ov" x="0" y="-0.5" width="980" height="61"/>
<use href="#ti"/><use href="#ti" x="245"/><use href="#ti" x="490"/><use href="#ti" x="735"/>
<text class="tp" y="-20.7"><tspan x="4.7">=120</tspan><tspan x="249.7">=120</tspan><tspan x="494.7">=118</tspan><tspan x="739.7">=122</tspan></text>
<text class="mn" y="-7.4"><tspan x="0.5">113</tspan><tspan x="245.5">114</tspan><tspan x="490.5">115</tspan><tspan x="735.5">116</tspan></text>
<text class="a a1" y="76"><tspan x="243.5">134</tspan><tspan x="488.5">100</tspan><tspan x="733.5">96</tspan><tspan x="978.5">100</tspan></text>
<text class="a a2" y="89.3"><tspan x="243.5">84284</tspan><tspan x="488.5">85484</tspan><tspan x="733.5">86636</tspan><tspan x="978.5">87836</tspan></text>
<text class="a a3" y="102"><tspan x="243.5">15.55%</tspan><tspan x="488.5">3.05%</tspan><tspan x="733.5">0.00%</tspan><tspan x="978.5">0.00%</tspan></text>
</g>

<g id="row30" transform="translate(32,4294.5)">
<use href="#st"/>
<rect class="G" x="0" y="-3.5" width="45.9" height="7"/><rect class="Y" x="91.9" y="26.5" width="45.9" height="7"/><rect class="G" x="490" y="-3.5" width="45.9" height="7"/><rect class="Y" x="581.9" y="26.5" width="61.2" height="7"/>
<use href="#n" class="G" x="0"/><use href="#n" class="G" x="61.25"/><use href="#n" class="Y" x="91.9" y="30"/><use href="#n" class="Y" x="153.1" y="30"/><use href="#n" class="O" x="275.6" y="60"/><use href="#n" class="O" x="306.25" y="60"/><use href="#n" class="B" x="398.1" y="45"/><use href="#n" class="B" x="428.75" y="45"/>
<use href="#n" class="G" x="490"/><use href="#n" class="G" x="551.25"/><use href="#n" class="Y" x="581.9" y="30"/><use href="#n" class="O" x="765.6" y="60"/><use href="#n" class="O" x="796.25" y="60"/><use href="#n" class="B" x="888.1" y="45"/><use href="#n" class="B" x="918.75" y="45"/><use href="#n" class="B" x="949.4" y="45"/>
<rect class="ov" x="0" y="-0.5" width="59.3" height="61"/><rect class="pk" x="59.3" y="-0.5" width="2" height="61"/>
<use href="#ti"/><use href="#ti" x="245"/><use href="#ti" x="490"/><use href="#ti" x="735"/>
<text class="tp" y="-20.7"><tspan x="4.7">=119</tspan><tspan x="249.7">=120</tspan><tspan x="494.7">=120</tspan><tspan x="739.7">=119</tspan></text>
<text class="mn" y="-7.4"><tspan x="0.5">117</tspan><tspan x="245.5">118</tspan><tspan x="490.5">119</tspan><tspan x="735.5">120</tspan></text>
<text class="a a1" y="76"><tspan x="243.5">118</tspan><tspan x="488.5">100</tspan><tspan x="733.5">96</tspan><tspan x="978.5">125</tspan></text>
<text class="a a2" y="89.3"><tspan x="243.5">88898</tspan><tspan x="488.5">89498</tspan><tspan x="733.5">90074</tspan><tspan x="978.5">90824</tspan></text>
<text class="a a3" y="102"><tspan x="243.5">0.00%</tspan><tspan x="488.5">0.00%</tspan><tspan x="733.5">0.00%</tspan><tspan x="978.5">0.00%</tspan></text>
</g>

<g id="row31" transform="translate(32,4435.5)">
<use href="#st"/>
<rect class="G" x="0" y="-3.5" width="45.9" height="7"/><rect class="Y" x="91.9" y="26.5" width="61.2" height="7"/><rect class="G" x="490" y="-3.5" width="45.9" height="7"/><rect class="Y" x="581.9" y="26.5" width="45.9" height="7"/>
<use href="#n" class="G" x="0"/><use href="#n" class="G" x="61.25"/><use href="#n" class="Y" x="91.9" y="30"/><use href="#n" class="B" x="275.6" y="45"/><use href="#n" class="O" x="306.25" y="60"/><use href="#n" class="Y" x="398.1" y="30"/><use href="#n" class="B" x="428.75" y="45"/><use href="#n" class="G" x="459.4"/>
<use href="#n" class="G" x="490"/><use href="#n" class="G" x="551.25"/><use href="#n" class="Y" x="581.9" y="30"/><use href="#n" class="Y" x="643.1" y="30"/><use href="#n" class="O" x="765.6" y="60"/><use href="#n" class="O" x="796.25" y="60"/><use href="#n" class="B" x="888.1" y="45"/><use href="#n" class="B" x="918.75" y="45"/>
<use href="#ti"/><use href="#ti" x="245"/><use href="#ti" x="490"/><use href="#ti" x="521.3"/><use href="#ti" x="735"/>
<text class="tp" y="-20.7"><tspan x="4.7">=122</tspan><tspan x="249.7">=121</tspan><tspan x="494.7">=121</tspan><tspan x="526">=121</tspan><tspan x="739.7">=121</tspan></text>
<text class="mn" y="-7.4"><tspan x="0.5">121</tspan><tspan x="245.5">122</tspan><tspan x="490.5">123</tspan><tspan x="735.5">124</tspan></text>
<text class="a a1" y="76"><tspan x="243.5">96</tspan><tspan x="488.5">125</tspan><tspan x="733.5">118</tspan><tspan x="978.5">100</tspan></text>
<text class="a a2" y="89.3"><tspan x="243.5">91400</tspan><tspan x="488.5">92150</tspan><tspan x="733.5">92858</tspan><tspan x="978.5">93458</tspan></text>
<text class="a a3" y="102"><tspan x="243.5">0.00%</tspan><tspan x="488.5">0.00%</tspan><tspan x="733.5">0.00%</tspan><tspan x="978.5">0.00%</tspan></text>
</g>

<g id="row32" transform="translate(32,4576.5)">
<use href="#mg"/><path d="M0 0V60M245 0V60" stroke="#000" stroke-width="1.5" fill="none"/>
<rect class="G" x="0" y="-3.5" width="61.25" height="7"/>
<use href="#n" class="G" x="0"/>
<use href="#ti"/>
<text class="tp" y="-20.7"><tspan x="4.7">=120</tspan></text>
<text class="mn" y="-7.4"><tspan x="0.5">125</tspan></text>
<text class="a a1" y="76"><tspan x="243.5">37</tspan></text>
<text class="a a2" y="89.3"><tspan x="243.5">93680</tspan></text>
<text class="a a3" y="102"><tspan x="243.5">0.00%</tspan></text>
</g>
</g>
</svg>
